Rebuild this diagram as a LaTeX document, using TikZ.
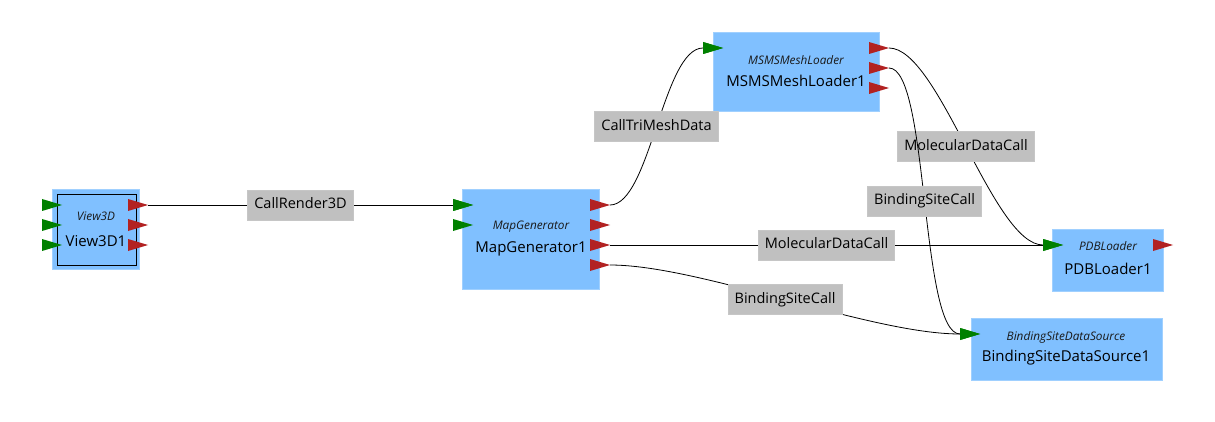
\documentclass[tikz,border=0pt]{standalone}
\usepackage{fontspec}
\setmainfont{Open Sans}
\definecolor{boxblue}{RGB}{128,192,255}
\definecolor{boxedge}{RGB}{160,208,255}
\definecolor{lblgrey}{RGB}{192,192,192}
\definecolor{ingreen}{RGB}{0,128,0}
\definecolor{outred}{RGB}{178,34,34}
\newcommand\inport[2]{\coordinate (#1) at (#2); \fill[ingreen] (#1) ++(0,-6) -- ++(20,6) -- ++(-20,6) -- cycle;}
\newcommand\outport[2]{\coordinate (#1) at (#2); \fill[outred] (#1) -- ++(-20,-6) -- ++(0,12) -- cycle;}
\tikzset{
  modbox/.style={fill=boxblue, draw=boxedge, line width=0.6pt, anchor=north west, inner sep=0pt},
  tname/.style={font=\fontsize{11.8}{13}\selectfont\itshape, text=black!90, inner sep=0pt},
  iname/.style={font=\fontsize{15}{18}\selectfont, inner sep=0pt},
  lbl/.style={fill=lblgrey, draw=lblgrey!90!white, font=\fontsize{14.5}{17}\selectfont, inner xsep=6.5pt, inner ysep=0pt, minimum height=30pt, text height=11pt, text depth=3.5pt},
  edge/.style={draw=black, line width=0.8pt}
}
\begin{document}
\begin{tikzpicture}[x=1pt,y=-1pt]
\fill[white] (0,0) rectangle (1215,422);
\useasboundingbox (0,0) rectangle (1215,422);

% modules
\node[modbox, minimum width=87pt, minimum height=80pt] (v3) at (52,189) {};
\node[draw=black, line width=0.8pt, fill=boxblue, anchor=north west, minimum width=79pt, minimum height=71pt, inner sep=0pt] (v3in) at (57,194) {};
\node[tname] (v3t) at (96,216) {View3D};
\node[iname] (v3n) at (96,241) {View3D1};

\node[modbox, minimum width=137pt, minimum height=100pt] (mg) at (462,189) {};
\node[tname] (mgt) at (531,227) {MapGenerator};
\node[iname] (mgn) at (531,249) {MapGenerator1};

\node[modbox, minimum width=166pt, minimum height=79pt] (ms) at (713,32) {};
\node[tname] (mst) at (796,60) {MSMSMeshLoader};
\node[iname] (msn) at (796,81) {MSMSMeshLoader1};

\node[modbox, minimum width=111pt, minimum height=62pt] (pdb) at (1052,229) {};
\node[tname] (pdbt) at (1108,246) {PDBLoader};
\node[iname] (pdbn) at (1108,269) {PDBLoader1};

\node[modbox, minimum width=191pt, minimum height=62pt] (bs) at (971,318) {};
\node[tname] (bst) at (1066,337) {BindingSiteDataSource};
\node[iname] (bsn) at (1066,358) {BindingSiteDataSource1};

% ports
\inport{v3i1}{42,205}
\inport{v3i2}{42,225}
\inport{v3i3}{42,245}
\outport{v3o1}{148,205}
\outport{v3o2}{148,225}
\outport{v3o3}{148,245}

\inport{mgi1}{453,205}
\inport{mgi2}{453,225}
\outport{mgo1}{610,205}
\outport{mgo2}{610,225}
\outport{mgo3}{610,245}
\outport{mgo4}{610,265}

\inport{msi1}{703,48}
\outport{mso1}{889,48}
\outport{mso2}{889,68}
\outport{mso3}{889,88}

\inport{pdbi1}{1043,245}
\outport{pdbo1}{1173,245}

\inport{bsi1}{960,334}

% connections
\draw[edge] (v3o1) -- node[lbl]{CallRender3D} (mgi1);
\draw[edge] (mgo1) .. controls +(40,0) and +(-40,0) .. node[lbl]{CallTriMeshData} (msi1);
\draw[edge] (mgo3) -- node[lbl]{MolecularDataCall} (pdbi1);
\draw[edge] (mgo4) .. controls +(90,0) and +(-90,0) .. node[lbl]{BindingSiteCall} (bsi1);
\draw[edge] (mso1) .. controls +(50,0) and +(-50,0) .. node[lbl]{MolecularDataCall} (pdbi1);
\draw[edge] (mso2) .. controls +(40,0) and +(-40,0) .. node[lbl]{BindingSiteCall} (bsi1);

% redraw port triangles above lines
\fill[ingreen] (mgi1) ++(0,-6) -- ++(20,6) -- ++(-20,6) -- cycle;
\fill[ingreen] (msi1) ++(0,-6) -- ++(20,6) -- ++(-20,6) -- cycle;
\fill[ingreen] (pdbi1) ++(0,-6) -- ++(20,6) -- ++(-20,6) -- cycle;
\fill[ingreen] (bsi1) ++(0,-6) -- ++(20,6) -- ++(-20,6) -- cycle;
\end{tikzpicture}
\end{document}
